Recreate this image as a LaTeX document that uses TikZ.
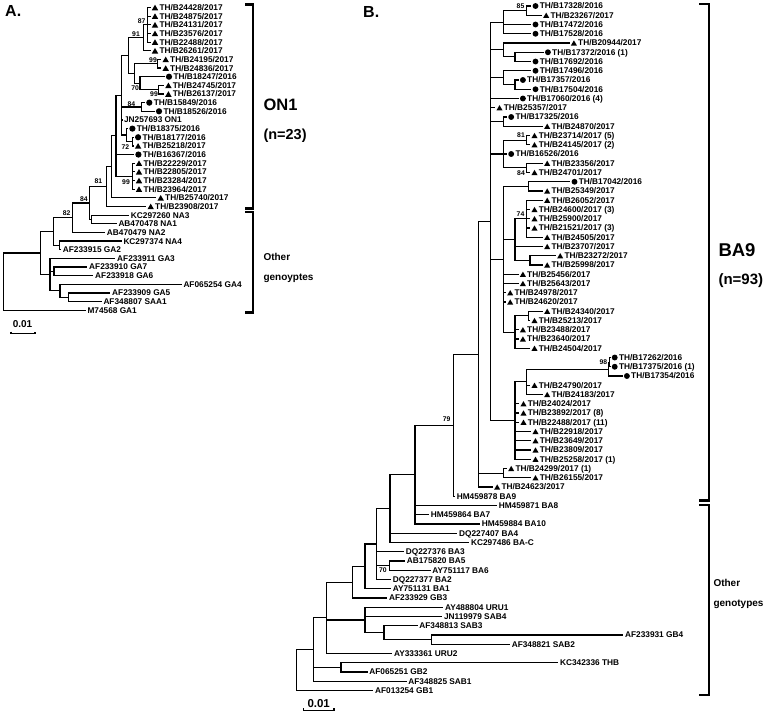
\documentclass[tikz,border=0pt]{standalone}
\usepackage{fontspec}
\setmainfont{Liberation Sans}
\usetikzlibrary{shapes.geometric}
\newcommand{\ftip}{\fontsize{8.3}{9}\selectfont\bfseries}
\newcommand{\fboot}{\fontsize{6.8}{7}\selectfont\bfseries}
\newcommand{\mytip}[6]{\coordinate (#3) at (#4,#5); \node[mk#2#1] (#3m) at (#3) {}; \node[lb#2#1] (#3t) at (#3) {#6};}
\tikzset{
 lbl/.style={anchor=west, inner sep=0pt, font=\ftip, text height=5.95pt, text depth=0pt},
 mkCA/.style={circle, fill=black, inner sep=0pt, minimum size=6.2pt, xshift=4.5pt},
 mkTA/.style={regular polygon, regular polygon sides=3, fill=black, inner sep=0pt, minimum size=7.4pt, xshift=4.5pt, yshift=-0.9pt},
 mkNA/.style={coordinate},
 lbCA/.style={lbl, xshift=8.8pt},
 lbTA/.style={lbl, xshift=8.8pt},
 lbNA/.style={lbl, xshift=1.6pt},
 mkCB/.style={circle, fill=black, inner sep=0pt, minimum size=5.9pt, xshift=4.2pt},
 mkTB/.style={regular polygon, regular polygon sides=3, fill=black, inner sep=0pt, minimum size=7pt, xshift=4.2pt, yshift=-0.85pt},
 mkNB/.style={coordinate},
 lbCB/.style={lbl, xshift=8.3pt},
 lbTB/.style={lbl, xshift=8.3pt},
 lbNB/.style={lbl, xshift=1.6pt},
 brA/.style={line width=1.2pt},
 brB/.style={line width=1.1pt},
 boot/.style={inner sep=0pt, font=\fboot},
 brk/.style={line width=2.2pt},
 big/.style={anchor=base west, inner sep=0pt},
}
\begin{document}
\begin{tikzpicture}[x=1pt,y=-1pt]
\useasboundingbox (0,0) rectangle (770,716);
\fill[white] (0,0) rectangle (770,716);
% ================= Panel A =================
\node[big, font=\fontsize{16}{18}\selectfont\bfseries] (labA) at (5,16.7) {A.};
\mytip{A}{T}{a0}{150.5}{7.5}{TH/B24428/2017}
\mytip{A}{T}{a1}{150.5}{16.15}{TH/B24875/2017}
\mytip{A}{T}{a2}{150.5}{24.8}{TH/B24131/2017}
\mytip{A}{T}{a3}{150.5}{33.45}{TH/B23576/2017}
\mytip{A}{T}{a4}{150.5}{42.1}{TH/B22488/2017}
\mytip{A}{T}{a5}{150.5}{50.75}{TH/B26261/2017}
\mytip{A}{T}{a6}{161.2}{59.4}{TH/B24195/2017}
\mytip{A}{T}{a7}{161.2}{68.05}{TH/B24836/2017}
\mytip{A}{C}{a8}{164.5}{76.7}{TH/B18247/2016}
\mytip{A}{T}{a9}{163.9}{85.35}{TH/B24745/2017}
\mytip{A}{T}{a10}{163.9}{94.0}{TH/B26137/2017}
\mytip{A}{C}{a11}{144.8}{102.65}{TH/B15849/2016}
\mytip{A}{C}{a12}{154.5}{111.3}{TH/B18526/2016}
\mytip{A}{N}{a13}{122.3}{119.95}{JN257693 ON1}
\mytip{A}{C}{a14}{127.9}{128.6}{TH/B18375/2016}
\mytip{A}{C}{a15}{133.6}{137.25}{TH/B18177/2016}
\mytip{A}{T}{a16}{133.6}{145.9}{TH/B25218/2017}
\mytip{A}{C}{a17}{133.9}{154.55}{TH/B16367/2016}
\mytip{A}{T}{a18}{134.5}{163.2}{TH/B22229/2017}
\mytip{A}{T}{a19}{134.5}{171.85}{TH/B22805/2017}
\mytip{A}{T}{a20}{134.5}{180.5}{TH/B23284/2017}
\mytip{A}{T}{a21}{134.5}{189.15}{TH/B23964/2017}
\mytip{A}{T}{a22}{156.2}{197.8}{TH/B25740/2017}
\mytip{A}{T}{a23}{146.2}{206.45}{TH/B23908/2017}
\mytip{A}{N}{a24}{129.1}{215.1}{KC297260 NA3}
\mytip{A}{N}{a25}{116.7}{223.75}{AB470478 NA1}
\mytip{A}{N}{a26}{105.1}{232.4}{AB470479 NA2}
\mytip{A}{N}{a27}{121.7}{241.05}{KC297374 NA4}
\mytip{A}{N}{a28}{61.1}{249.7}{AF233915 GA2}
\mytip{A}{N}{a29}{115.4}{258.35}{AF233911 GA3}
\mytip{A}{N}{a30}{87.4}{267.0}{AF233910 GA7}
\mytip{A}{N}{a31}{93.4}{275.65}{AF233918 GA6}
\mytip{A}{N}{a32}{181.7}{284.3}{AF065254 GA4}
\mytip{A}{N}{a33}{110.4}{292.95}{AF233909 GA5}
\mytip{A}{N}{a34}{101.7}{301.6}{AF348807 SAA1}
\mytip{A}{N}{a35}{85.7}{310.25}{M74568 GA1}
% internal nodes A
\coordinate (NA04) at (147.7,24.8);
\coordinate (NA05) at (143.3,37.775);
\coordinate (NA67) at (157.3,63.725);
\coordinate (NA910) at (158.3,89.675);
\coordinate (NA810) at (140,83.19);
\coordinate (NA610) at (134.3,73.46);
\coordinate (NA310) at (128.3,55.62);
\coordinate (NA1112) at (141.5,106.975);
\coordinate (NA1516) at (132.5,141.575);
\coordinate (NA1416) at (126.7,135.09);
\coordinate (NAon) at (121.7,95.35);
\coordinate (NA1821) at (132.5,176.175);
\coordinate (NA116) at (116,135.76);
\coordinate (NA112) at (111.7,166.78);
\coordinate (NA107) at (106.7,186.62);
\coordinate (NA92) at (91.7,219.43);
\coordinate (NA89) at (89.3,203.02);
\coordinate (NA73) at (72.7,217.71);
\coordinate (NA59) at (59.3,245.375);
\coordinate (NA53) at (53.3,231.54);
\coordinate (NA76) at (54,271.325);
\coordinate (NA35) at (68.3,297.275);
\coordinate (NA4g) at (60,290.79);
\coordinate (NA50) at (50,274.57);
\coordinate (NA40) at (40.7,253.06);
\coordinate (NAroot) at (3.3,281.66);
\foreach \p/\c in {NA04/a0,NA04/a1,NA04/a2,NA04/a3,NA04/a4,NA05/NA04,NA05/a5,
 NA67/a6,NA67/a7,NA910/a9,NA910/a10,NA810/a8,NA810/NA910,NA610/NA67,NA610/NA810,
 NA310/NA05,NA310/NA610,NA1112/a11,NA1112/a12,NA1516/a15,NA1516/a16,NA1416/a14,NA1416/NA1516,
 NAon/NA310,NAon/NA1112,NAon/a13,NAon/NA1416,NA1821/a18,NA1821/a19,NA1821/a20,NA1821/a21,
 NA116/NAon,NA116/a17,NA116/NA1821,NA112/NA116,NA112/a22,NA107/NA112,NA107/a23,
 NA92/a24,NA92/a25,NA89/NA107,NA89/NA92,NA73/NA89,NA73/a26,NA59/a27,NA59/a28,
 NA53/NA73,NA53/NA59,NA76/a30,NA76/a31,NA35/a33,NA35/a34,NA4g/a32,NA4g/NA35,
 NA50/a29,NA50/NA76,NA50/NA4g,NA40/NA53,NA40/NA50,NAroot/NA40,NAroot/a35}
 \draw[brA] (\p) |- (\c);
% bootstrap A
\node[boot] (bA1) at (141.7,20.8) {87};
\node[boot] (bA2) at (136,34.3) {91};
\node[boot] (bA3) at (153,60) {99};
\node[boot] (bA4) at (135.2,87.8) {70};
\node[boot] (bA5) at (154,93.7) {99};
\node[boot] (bA6) at (131.3,103.8) {84};
\node[boot] (bA7) at (125.3,146.7) {72};
\node[boot] (bA8) at (126,181.7) {99};
\node[boot] (bA9) at (98.3,181) {81};
\node[boot] (bA10) at (84,199.2) {84};
\node[boot] (bA11) at (66.7,213.2) {82};
% brackets A
\draw[brk] (245,4.5) -- (253.3,4.5) -- (253.3,208.5) -- (245,208.5);
\draw[brk] (245,212.3) -- (253.3,212.3) -- (253.3,312.5) -- (245,312.5);
\node[big, font=\fontsize{16.5}{18}\selectfont\bfseries] (on1) at (263.3,110) {ON1};
\node[big, font=\fontsize{14.5}{16}\selectfont\bfseries] (n23) at (263.3,139) {(n=23)};
\node[big, font=\fontsize{10}{12}\selectfont\bfseries] (othA) at (263.3,260.7) {Other};
\node[big, font=\fontsize{10}{12}\selectfont\bfseries] (genA) at (263.3,280) {genoyptes};
% scale A
\node[anchor=base, inner sep=0pt, font=\fontsize{10}{12}\selectfont\bfseries] (sclA) at (22.5,327) {0.01};
\draw[line width=1.3pt] (11,331.5) -- (11,333.5) -- (35,333.5) -- (35,331.5);
% ================= Panel B =================
\node[big, font=\fontsize{16}{18}\selectfont\bfseries] (labB) at (363,17) {B.};
\mytip{B}{C}{b0}{531.3}{6}{TH/B17328/2016}
\mytip{B}{T}{b1}{542}{15.25}{TH/B23267/2017}
\mytip{B}{C}{b2}{531.3}{24.5}{TH/B17472/2016}
\mytip{B}{C}{b3}{531.3}{33.75}{TH/B17528/2016}
\mytip{B}{T}{b4}{569.7}{43}{TH/B20944/2017}
\mytip{B}{C}{b5}{543.7}{52.25}{TH/B17372/2016 (1)}
\mytip{B}{C}{b6}{531.3}{61.5}{TH/B17692/2016}
\mytip{B}{C}{b7}{531.3}{70.75}{TH/B17496/2016}
\mytip{B}{C}{b8}{518.7}{80}{TH/B17357/2016}
\mytip{B}{C}{b9}{531.3}{89.25}{TH/B17504/2016}
\mytip{B}{C}{b10}{518.7}{98.5}{TH/B17060/2016 (4)}
\mytip{B}{T}{b11}{495.3}{107.75}{TH/B25357/2017}
\mytip{B}{C}{b12}{507}{117}{TH/B17325/2016}
\mytip{B}{T}{b13}{543}{126.25}{TH/B24870/2017}
\mytip{B}{T}{b14}{530.3}{135.5}{TH/B23714/2017 (5)}
\mytip{B}{T}{b15}{530.3}{144.75}{TH/B24145/2017 (2)}
\mytip{B}{C}{b16}{507}{154}{TH/B16526/2016}
\mytip{B}{T}{b17}{543}{163.25}{TH/B23356/2017}
\mytip{B}{T}{b18}{530.3}{172.5}{TH/B24701/2017}
\mytip{B}{C}{b19}{570.3}{181.75}{TH/B17042/2016}
\mytip{B}{T}{b20}{543}{191}{TH/B25349/2017}
\mytip{B}{T}{b21}{543}{200.25}{TH/B26052/2017}
\mytip{B}{T}{b22}{530.3}{209.5}{TH/B24600/2017 (3)}
\mytip{B}{T}{b23}{530.3}{218.75}{TH/B25900/2017}
\mytip{B}{T}{b24}{530.3}{228}{TH/B21521/2017 (3)}
\mytip{B}{T}{b25}{543}{237.25}{TH/B24505/2017}
\mytip{B}{T}{b26}{543}{246.5}{TH/B23707/2017}
\mytip{B}{T}{b27}{556}{255.75}{TH/B23272/2017}
\mytip{B}{T}{b28}{543}{265}{TH/B25998/2017}
\mytip{B}{T}{b29}{518.7}{274.25}{TH/B25456/2017}
\mytip{B}{T}{b30}{518.7}{283.5}{TH/B25643/2017}
\mytip{B}{T}{b31}{506}{292.75}{TH/B24978/2017}
\mytip{B}{T}{b32}{506}{302}{TH/B24620/2017}
\mytip{B}{T}{b33}{543}{311.25}{TH/B24340/2017}
\mytip{B}{T}{b34}{530.3}{320.5}{TH/B25213/2017}
\mytip{B}{T}{b35}{518.7}{329.75}{TH/B23488/2017}
\mytip{B}{T}{b36}{518.7}{339}{TH/B23640/2017}
\mytip{B}{T}{b37}{530.3}{348.25}{TH/B24504/2017}
\mytip{B}{C}{b38}{610.5}{357.5}{TH/B17262/2016}
\mytip{B}{C}{b39}{610.5}{366.75}{TH/B17375/2016 (1)}
\mytip{B}{C}{b40}{622.7}{376}{TH/B17354/2016}
\mytip{B}{T}{b41}{530.3}{385.25}{TH/B24790/2017}
\mytip{B}{T}{b42}{543}{394.5}{TH/B24183/2017}
\mytip{B}{T}{b43}{519.3}{403.75}{TH/B24024/2017}
\mytip{B}{T}{b44}{519.3}{413}{TH/B23892/2017 (8)}
\mytip{B}{T}{b45}{519.3}{422.25}{TH/B22488/2017 (11)}
\mytip{B}{T}{b46}{531.3}{431.5}{TH/B22918/2017}
\mytip{B}{T}{b47}{531.3}{440.75}{TH/B23649/2017}
\mytip{B}{T}{b48}{531.3}{450}{TH/B23809/2017}
\mytip{B}{T}{b49}{531.3}{459.25}{TH/B25258/2017 (1)}
\mytip{B}{T}{b50}{507}{468.5}{TH/B24299/2017 (1)}
\mytip{B}{T}{b51}{531.3}{477.75}{TH/B26155/2017}
\mytip{B}{T}{b52}{493}{487}{TH/B24623/2017}
\mytip{B}{N}{b53}{455}{496.25}{HM459878 BA9}
\mytip{B}{N}{b54}{497}{505.5}{HM459871 BA8}
\mytip{B}{N}{b55}{429}{514.75}{HM459864 BA7}
\mytip{B}{N}{b56}{480}{524}{HM459884 BA10}
\mytip{B}{N}{b57}{457.3}{533.25}{DQ227407 BA4}
\mytip{B}{N}{b58}{469.3}{542.5}{KC297486 BA-C}
\mytip{B}{N}{b59}{404}{551.75}{DQ227376 BA3}
\mytip{B}{N}{b60}{405}{561}{AB175820 BA5}
\mytip{B}{N}{b61}{430.6}{570.25}{AY751117 BA6}
\mytip{B}{N}{b62}{391}{579.5}{DQ227377 BA2}
\mytip{B}{N}{b63}{391}{588.75}{AY751131 BA1}
\mytip{B}{N}{b64}{387.3}{598}{AF233929 GB3}
\mytip{B}{N}{b65}{443.3}{607.25}{AY488804 URU1}
\mytip{B}{N}{b66}{442.3}{616.5}{JN119979 SAB4}
\mytip{B}{N}{b67}{417.6}{625.75}{AF348813 SAB3}
\mytip{B}{N}{b68}{623.3}{635}{AF233931 GB4}
\mytip{B}{N}{b69}{510}{644.25}{AF348821 SAB2}
\mytip{B}{N}{b70}{392.3}{653.5}{AY333361 URU2}
\mytip{B}{N}{b71}{558.3}{662.75}{KC342336 THB}
\mytip{B}{N}{b72}{367.6}{672}{AF065251 GB2}
\mytip{B}{N}{b73}{406.6}{681.25}{AF348825 SAB1}
\mytip{B}{N}{b74}{373.3}{690.5}{AF013254 GB1}
% internal nodes B
\coordinate (N01) at (526.7,10.625);
\coordinate (N03) at (503.3,22.19);
\coordinate (N56) at (515,56.875);
\coordinate (N4) at (503.3,49.94);
\coordinate (N89) at (515,84.625);
\coordinate (N7) at (503.3,77.69);
\coordinate (N1213) at (503.3,121.625);
\coordinate (N1415) at (526.7,140.125);
\coordinate (N1718) at (526.7,167.875);
\coordinate (N1418) at (503.3,154);
\coordinate (N1920) at (528.3,186.375);
\coordinate (N2125) at (526.7,218.75);
\coordinate (N2728) at (530,260.375);
\coordinate (N2128) at (515,239.56);
\coordinate (N3334) at (528.3,315.875);
\coordinate (N3337) at (515,332.06);
\coordinate (N19) at (503.3,259.22);
\coordinate (N3839) at (609.8,362.125);
\coordinate (N3840) at (608.3,369.06);
\coordinate (N3842) at (526.7,381.78);
\coordinate (N3849) at (515,420.52);
\coordinate (NT) at (490.7,221.35);
\coordinate (N5051) at (503.3,473.125);
\coordinate (N478) at (478.3,354.18);
\coordinate (N453) at (453.3,425.21);
\coordinate (N415) at (415,474.6);
\coordinate (N390) at (390,508.55);
\coordinate (N6061) at (389.3,565.625);
\coordinate (N376) at (376.7,544.03);
\coordinate (N365) at (365,566.39);
\coordinate (N352) at (352.7,582.2);
\coordinate (N4317) at (431.7,639.625);
\coordinate (N384) at (384,632.69);
\coordinate (N365b) at (365,619.97);
\coordinate (N326) at (326.7,617.85);
\coordinate (N341) at (341,667.375);
\coordinate (N313) at (313.3,649.55);
\coordinate (N296) at (296.7,670.03);
\foreach \p/\c in {N01/b0,N01/b1,N03/N01,N03/b2,N03/b3,N56/b5,N56/b6,N4/b4,N4/N56,
 N89/b8,N89/b9,N7/b7,N7/N89,N1213/b12,N1213/b13,N1415/b14,N1415/b15,N1718/b17,N1718/b18,
 N1418/N1415,N1418/b16,N1418/N1718,N1920/b19,N1920/b20,
 N2125/b21,N2125/b22,N2125/b23,N2125/b24,N2125/b25,N2728/b27,N2728/b28,
 N2128/N2125,N2128/b26,N2128/N2728,N3334/b33,N3334/b34,N3337/N3334,N3337/b35,N3337/b36,N3337/b37,
 N19/N1920,N19/N2128,N19/b29,N19/b30,N19/b31,N19/b32,N19/N3337,
 N3839/b38,N3839/b39,N3840/N3839,N3840/b40,N3842/N3840,N3842/b41,N3842/b42,
 N3849/N3842,N3849/b43,N3849/b44,N3849/b45,N3849/b46,N3849/b47,N3849/b48,N3849/b49,
 NT/N03,NT/N4,NT/N7,NT/b10,NT/b11,NT/N1213,NT/N1418,NT/N19,NT/N3849,
 N5051/b50,N5051/b51,N478/NT,N478/N5051,N478/b52,N453/N478,N453/b53,
 N415/N453,N415/b54,N415/b55,N415/b56,N390/N415,N390/b57,N390/b58,
 N6061/b60,N6061/b61,N376/N390,N376/b59,N376/N6061,N376/b62,N365/N376,N365/b63,
 N352/N365,N352/b64,N4317/b68,N4317/b69,N384/b67,N384/N4317,N365b/b65,N365b/b66,N365b/N384,
 N326/N352,N326/N365b,N326/b70,N341/b71,N341/b72,N313/N326,N313/N341,N313/b73,
 N296/N313,N296/b74}
 \draw[brB] (\p) |- (\c);
% bootstrap B
\node[boot] (bB1) at (520.5,6.3) {85};
\node[boot] (bB2) at (521,135.3) {81};
\node[boot] (bB3) at (521,172.8) {84};
\node[boot] (bB4) at (520.5,214.5) {74};
\node[boot] (bB5) at (603.3,362) {98};
\node[boot] (bB6) at (446.7,419.5) {79};
\node[boot] (bB7) at (382.8,570.5) {70};
% brackets B
\draw[brk] (699,4) -- (709,4) -- (709,500.5) -- (699,500.5);
\draw[brk] (699,505) -- (709,505) -- (709,695) -- (699,695);
\node[big, font=\fontsize{18.5}{20}\selectfont\bfseries] (ba9) at (718.3,256.7) {BA9};
\node[big, font=\fontsize{15}{17}\selectfont\bfseries] (n93) at (718.3,284.5) {(n=93)};
\node[big, font=\fontsize{10}{12}\selectfont\bfseries] (othB) at (713.3,586.7) {Other};
\node[big, font=\fontsize{10}{12}\selectfont\bfseries] (genB) at (713.3,606) {genotypes};
% scale B
\node[anchor=base, inner sep=0pt, font=\fontsize{11.5}{13}\selectfont\bfseries] (sclB) at (318.7,707) {0.01};
\draw[line width=1.3pt] (303.3,708.3) -- (303.3,710.5) -- (334,710.5) -- (334,708.3);
\end{tikzpicture}
\end{document}
